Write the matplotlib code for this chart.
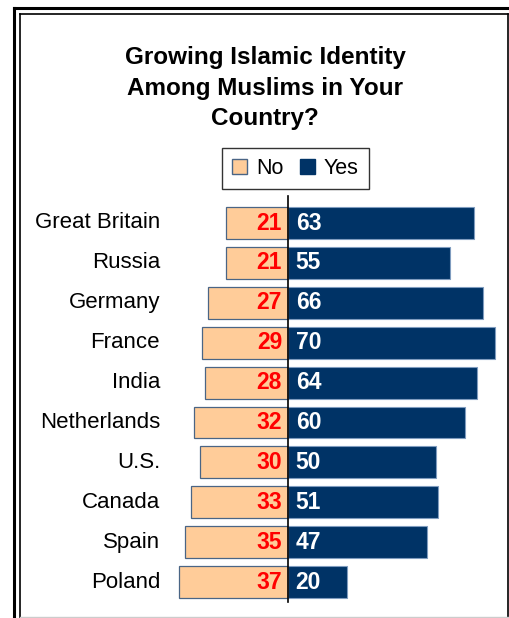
import matplotlib
matplotlib.use("Agg")
import matplotlib.pyplot as plt
from matplotlib.lines import Line2D
from matplotlib.patches import Patch

countries = ["Great Britain", "Russia", "Germany", "France", "India",
             "Netherlands", "U.S.", "Canada", "Spain", "Poland"]
no_vals = [21, 21, 27, 29, 28, 32, 30, 33, 35, 37]
yes_vals = [63, 55, 66, 70, 64, 60, 50, 51, 47, 20]

NO_COLOR = "#FFCC99"
YES_COLOR = "#003366"
W, H = 509, 618

plt.rcParams["font.family"] = ["Liberation Sans", "DejaVu Sans"]

fig = plt.figure(figsize=(W / 100, H / 100), dpi=100)
ax = fig.add_axes([0, 0, 1, 1])

# layout in pixels: zero line at x=288, ~2.95 px per percent, rows 39.9 px apart
px_per_unit = 2.95
x0 = 288
row = 39.9
y_first = 223
ax.set_xlim(-x0 / px_per_unit, (W - x0) / px_per_unit)
ax.set_ylim((H - y_first) / row, -y_first / row)
ax.axis("off")

ypos = list(range(len(countries)))
ax.barh(ypos, [-v for v in no_vals], height=0.8, color=NO_COLOR,
        edgecolor="#4a6585", linewidth=0.9)
ax.barh(ypos, yes_vals, height=0.8, color=YES_COLOR,
        edgecolor="#7f9cbf", linewidth=0.8)
ax.axvline(0, ymin=1 - 602 / H, ymax=1 - 196 / H, color="black", lw=1.2)

label_x = (160 - x0) / px_per_unit
for y, name, n, yv in zip(ypos, countries, no_vals, yes_vals):
    ax.text(label_x, y, name, ha="right", va="center", fontsize=16, color="black")
    ax.text(-2.0, y, str(n), ha="right", va="center", fontsize=16.5,
            fontweight="bold", color="#FF0000")
    ax.text(2.6, y, str(yv), ha="left", va="center", fontsize=16.5,
            fontweight="bold", color="white")

# title
fig.text(265 / W, 1 - 88 / H, "Growing Islamic Identity\nAmong Muslims in Your\nCountry?",
         ha="center", va="center", fontsize=17.5, fontweight="bold", linespacing=1.4)

# legend
handles = [Patch(facecolor=NO_COLOR, edgecolor="#4a6585", label="No"),
           Patch(facecolor=YES_COLOR, edgecolor=YES_COLOR, label="Yes")]
leg = fig.legend(handles=handles, loc="center", ncol=2,
                 bbox_to_anchor=(295.5 / W, 1 - 168.5 / H),
                 fontsize=15.5, frameon=True, fancybox=False,
                 handlelength=0.7, handleheight=0.7, handletextpad=0.4,
                 columnspacing=0.8, borderpad=0.45, borderaxespad=0)
leg.get_frame().set_edgecolor("black")
leg.get_frame().set_linewidth(1.0)

# double frame around the chart
def fline(xs, ys, **kw):
    fig.add_artist(Line2D([x / W for x in xs], [1 - y / H for y in ys],
                          transform=fig.transFigure, **kw))

fline([13.5, W], [8, 8], color="black", lw=2.2)
fline([13.5, 13.5], [8, H], color="black", lw=2.2)
fline([19.5, 508], [14, 14], color="black", lw=1.2)
fline([19.5, 19.5], [14, H], color="black", lw=1.2)
fline([508, 508], [14, 616.5], color="black", lw=1.2)
fline([19.5, 508], [616.5, 616.5], color="#cccccc", lw=1.0)

fig.savefig("out.png", dpi=100)
